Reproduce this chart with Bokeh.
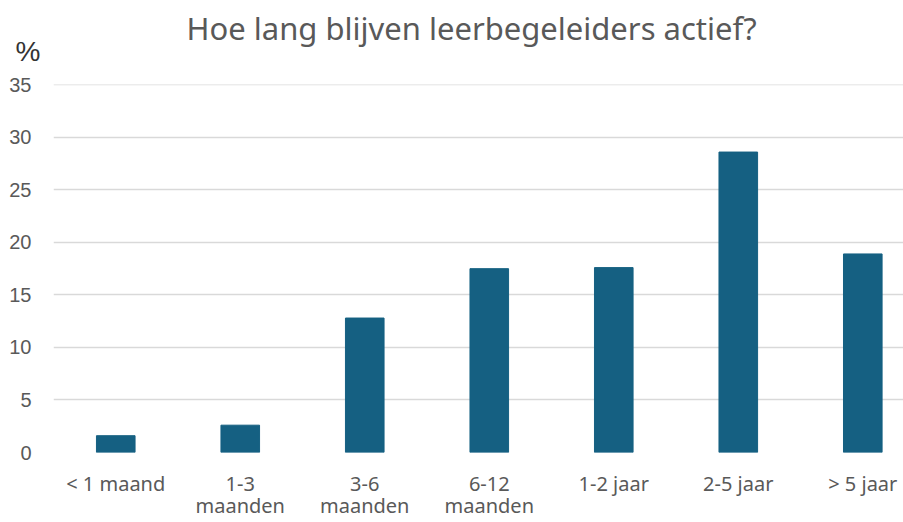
from bokeh.plotting import figure
from bokeh.models import Range1d, FixedTicker, Title, ColumnDataSource
from bokeh.embed import file_html
from bokeh.resources import INLINE

categories = ["< 1 maand", "1-3\nmaanden", "3-6\nmaanden", "6-12\nmaanden",
              "1-2 jaar", "2-5 jaar", "> 5 jaar"]
values = [1.6, 2.6, 12.8, 17.5, 17.6, 28.6, 18.9]
y_ticks = [0, 5, 10, 15, 20, 25, 30, 35]
title_text = "Hoe lang blijven leerbegeleiders actief?"
unit_text = "%"

positions = list(range(len(categories)))
src = ColumnDataSource(dict(x=positions, top=values))

p = figure(width=903, height=522, output_backend="svg", toolbar_location=None,
           x_range=Range1d(-0.5, 6.327), y_range=Range1d(0, 35.03),
           min_border_left=53, min_border_right=0, min_border_top=84,
           min_border_bottom=69, title=None)

unit = Title(text=unit_text, align="left", offset=-38, standoff=36,
             text_font="Liberation Sans", text_font_size="28px",
             text_font_style="normal", text_color="#333333")
p.add_layout(unit, "above")
main = Title(text=title_text, align="left", offset=133, standoff=-67,
             text_font="Noto Sans", text_font_size="31px",
             text_font_style="normal", text_color="#595959")
p.add_layout(main, "above")

p.vbar(x="x", top="top", width=0.31, source=src, fill_color="#156082",
       line_color="#156082")

p.outline_line_color = None
p.background_fill_color = "white"
p.border_fill_color = "white"

p.xgrid.grid_line_color = None
p.ygrid.grid_line_color = "#d9d9d9"
p.ygrid.grid_line_width = 1.5
p.ygrid.ticker = FixedTicker(ticks=y_ticks)

xa = p.xaxis[0]
xa.ticker = FixedTicker(ticks=positions)
xa.major_label_overrides = {i: c for i, c in zip(positions, categories)}
xa.axis_line_color = None
xa.major_tick_line_color = None
xa.minor_tick_line_color = None
xa.major_tick_out = 0
xa.major_tick_in = 0
xa.major_label_standoff = 17
xa.major_label_text_font = "Noto Sans"
xa.major_label_text_font_size = "20px"
xa.major_label_text_color = "#595959"
xa.major_label_text_line_height = 0.85

ya = p.yaxis[0]
ya.ticker = FixedTicker(ticks=y_ticks)
ya.axis_line_color = None
ya.major_tick_line_color = None
ya.minor_tick_line_color = None
ya.major_tick_out = 0
ya.major_tick_in = 0
ya.major_label_standoff = 22
ya.major_label_text_font = "Liberation Sans"
ya.major_label_text_font_size = "20px"
ya.major_label_text_color = "#595959"

open("out.html", "w").write(file_html(p, INLINE))
